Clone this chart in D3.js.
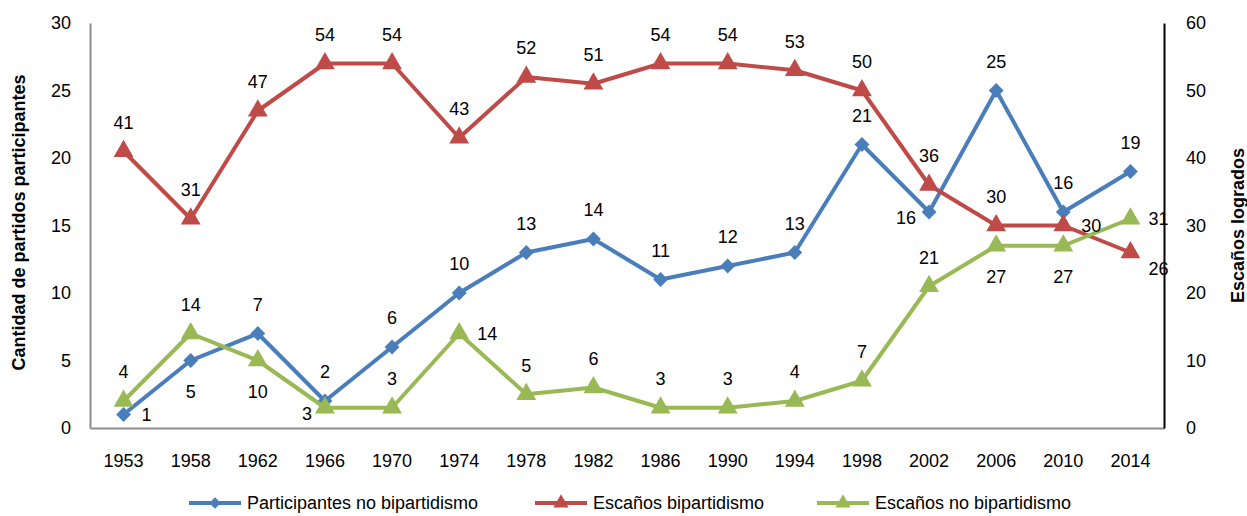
<!DOCTYPE html>
<html>
<head>
<meta charset="utf-8">
<script src="https://cdn.jsdelivr.net/npm/d3@7"></script>
<style>
  body { margin: 0; background: #fff; }
  text { font-family: "Liberation Sans", Arial, sans-serif; }
</style>
</head>
<body>
<svg id="chart"></svg>
<script>
// Data
const years = ["1953", "1958", "1962", "1966", "1970", "1974", "1978", "1982", "1986", "1990", "1994", "1998", "2002", "2006", "2010", "2014"];
const participantes = [1, 5, 7, 2, 6, 10, 13, 14, 11, 12, 13, 21, 16, 25, 16, 19];
const escanosBi = [41, 31, 47, 54, 54, 43, 52, 51, 54, 54, 53, 50, 36, 30, 30, 26];
const escanosNoBi = [4, 14, 10, 3, 3, 14, 5, 6, 3, 3, 4, 7, 21, 27, 27, 31];
const leftTicks = [0, 5, 10, 15, 20, 25, 30];
const rightTicks = [0, 10, 20, 30, 40, 50, 60];

// label placement per point: a = above, b = below, r = right, l = left
const posBlue = ["r", "b", "a", "a", "a", "a", "a", "a", "a", "a", "a", "a", "l", "a", "a", "a"];
const posRed = ["a", "a", "a", "a", "a", "a", "a", "a", "a", "a", "a", "a", "a", "a", "r", "rb"];
const posGreen = ["a", "a", "b", "l", "a", "r", "a", "a", "a", "a", "a", "a", "a", "b", "b", "r"];

const W = 1247, H = 516;
const margin = { top: 23, right: 83, bottom: 88, left: 90 };
const width = W - margin.left - margin.right;
const height = H - margin.top - margin.bottom;

const svg = d3.select("#chart").attr("width", W).attr("height", H);
const g = svg.append("g").attr("transform", `translate(${margin.left},${margin.top})`);

const x = d3.scaleBand().domain(years).range([0, width]);
const cx = d => x(d) + x.bandwidth() / 2;
const yL = d3.scaleLinear().domain([0, 30]).range([height, 0]);
const yR = d3.scaleLinear().domain([0, 60]).range([height, 0]);

// Axes
const xAxis = g.append("g")
    .attr("transform", `translate(0,${height})`)
    .call(d3.axisBottom(x).tickSize(0).tickPadding(26));
xAxis.select(".domain").attr("stroke", "#8c8c8c").attr("stroke-width", 2);

const leftAxis = g.append("g")
    .call(d3.axisLeft(yL).tickValues(leftTicks).tickSize(0).tickPadding(19));
leftAxis.select(".domain").attr("stroke", "#8c8c8c").attr("stroke-width", 2);

const rightAxis = g.append("g")
    .attr("transform", `translate(${width},0)`)
    .call(d3.axisRight(yR).tickValues(rightTicks).tickSize(0).tickPadding(22));
rightAxis.select(".domain").attr("stroke", "#000").attr("stroke-width", 2);

svg.selectAll(".tick text")
    .attr("font-size", 18)
    .attr("fill", "#000")
    .style("font-family", "'Liberation Sans', Arial, sans-serif");

// Axis titles
svg.append("text")
    .attr("transform", `translate(25,${margin.top + height / 2 - 3}) rotate(-90)`)
    .attr("text-anchor", "middle")
    .attr("font-size", 18)
    .attr("font-weight", "bold")
    .text("Cantidad de partidos participantes");

svg.append("text")
    .attr("transform", `translate(1244,${margin.top + height / 2}) rotate(-90)`)
    .attr("text-anchor", "middle")
    .attr("font-size", 18)
    .attr("font-weight", "bold")
    .text("Escaños logrados");

const series = [
    { name: "Participantes no bipartidismo", values: participantes, y: yL, color: "#4a7ebb", marker: "diamond", pos: posBlue },
    { name: "Escaños bipartidismo", values: escanosBi, y: yR, color: "#be4b48", marker: "triangle", pos: posRed },
    { name: "Escaños no bipartidismo", values: escanosNoBi, y: yR, color: "#98b954", marker: "triangle", pos: posGreen }
];

const symbolFor = m => m === "diamond"
    ? d3.symbol().type(d3.symbolSquare).size(110)
    : d3.symbol().type(d3.symbolTriangle).size(170);

series.forEach(s => {
    const pts = years.map((yr, i) => [cx(yr), s.y(s.values[i])]);

    g.append("path")
        .datum(pts)
        .attr("fill", "none")
        .attr("stroke", s.color)
        .attr("stroke-width", 4)
        .attr("stroke-linejoin", "round")
        .attr("d", d3.line());

    g.selectAll(null)
        .data(pts)
        .join("path")
        .attr("d", symbolFor(s.marker))
        .attr("transform", d => `translate(${d[0]},${d[1]})` + (s.marker === "diamond" ? " rotate(45)" : ""))
        .attr("fill", s.color);
});

// Data labels
series.forEach(s => {
    years.forEach((yr, i) => {
        const px = cx(yr), py = s.y(s.values[i]);
        const p = s.pos[i];
        let dx = 0, dy = -29, anchor = "middle";
        if (p === "b") { dy = 31; }
        if (p === "r") { dx = 18; dy = 0; anchor = "start"; }
        if (p === "l") { dx = -13; dy = 6; anchor = "end"; }
        if (p === "rb") { dx = 18; dy = 16; anchor = "start"; }
        g.append("text")
            .attr("x", px + dx)
            .attr("y", py + dy)
            .attr("dy", "0.35em")
            .attr("text-anchor", anchor)
            .attr("font-size", 18)
            .attr("fill", "#000")
            .text(s.values[i]);
    });
});

// Legend
const legendX = [189, 535, 817];
const legendY = 503;
series.forEach((s, i) => {
    const lg = svg.append("g").attr("transform", `translate(${legendX[i]},${legendY})`);
    lg.append("line")
        .attr("x1", 0).attr("x2", 52)
        .attr("stroke", s.color).attr("stroke-width", 4);
    lg.append("path")
        .attr("d", s.marker === "diamond"
            ? d3.symbol().type(d3.symbolSquare).size(65)()
            : d3.symbol().type(d3.symbolTriangle).size(100)())
        .attr("transform", "translate(26,0)" + (s.marker === "diamond" ? " rotate(45)" : ""))
        .attr("fill", s.color);
    lg.append("text")
        .attr("x", 58)
        .attr("dy", "0.35em")
        .attr("font-size", 18)
        .attr("fill", "#000")
        .text(s.name);
});
</script>
</body>
</html>
